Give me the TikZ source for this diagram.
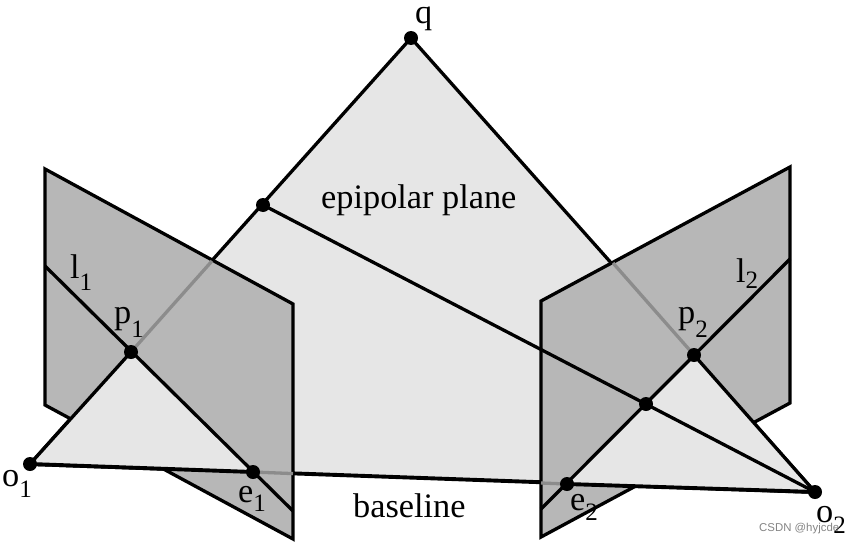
\documentclass[tikz,border=0pt]{standalone}
\usepackage{fontspec}
\setmainfont{Liberation Serif}
\newfontfamily\wmfont{Liberation Sans}
\definecolor{planegray}{HTML}{B7B7B7}
\definecolor{epilight}{HTML}{E6E6E6}
\definecolor{hiddenline}{HTML}{8C8C8C}
\newcommand{\subdig}[2][10.5pt]{\raisebox{-#1}{\fontsize{25}{25}\selectfont #2}}
\tikzset{
  dotpt/.style={circle,fill=black,inner sep=0pt,minimum size=14pt},
  edge/.style={draw=black,line width=3.3pt,line join=miter},
  baseedge/.style={draw=black,line width=3.9pt},
  hiddenedge/.style={draw=hiddenline,line width=3.3pt},
  planeshape/.style={fill=planegray,draw=black,line width=3.3pt,line join=miter},
  lightshape/.style={fill=epilight},
  lab/.style={anchor=base west,inner sep=0pt,font=\fontsize{34.3}{34.3}\selectfont},
  wm/.style={anchor=base west,inner sep=0pt,text=black!48,font=\wmfont\fontsize{11.4}{12}\selectfont}
}
\begin{document}
\begin{tikzpicture}[x=1pt,y=-1pt]
\useasboundingbox (0,0) rectangle (850,543);
\fill[white] (0,0) rectangle (850,543);
% named points
\coordinate (q) at (411,38);
\coordinate (o1) at (30,464);
\coordinate (o2) at (815,492);
\coordinate (e1) at (253,472);
\coordinate (e2) at (567,484);
\coordinate (p1) at (131,352);
\coordinate (p2) at (694,355);
\coordinate (m2) at (646,404);
\coordinate (m1) at (263,205);
\coordinate (ql) at (212,261);
\coordinate (qr) at (613,263);
\coordinate (bl) at (293,473.6);
\coordinate (br) at (541,483);
% epipolar plane
\path[lightshape] (q) -- (o1) -- (o2) -- cycle;
\draw[edge] (q) -- (o1);
\draw[edge] (q) -- (o2);
\draw[baseedge] (o1) -- (o2);
% image planes
\coordinate (L1) at (45,169);
\coordinate (L2) at (293,304);
\coordinate (L3) at (293,539);
\coordinate (L4) at (45,405);
\coordinate (R1) at (790,167);
\coordinate (R2) at (541,301);
\coordinate (R3) at (541,537);
\coordinate (R4) at (790,403);
\path[planeshape] (L1) -- (L2) -- (L3) -- (L4) -- cycle;
\path[planeshape] (R1) -- (R2) -- (R3) -- (R4) -- cycle;
% hidden lines seen through the planes
\draw[hiddenedge] (ql) -- (p1);
\draw[hiddenedge] (qr) -- (p2);
\draw[hiddenedge] (e1) -- (bl);
\draw[hiddenedge] (e2) -- (br);
% triangles in front of the planes
\path[lightshape] (o1) -- (p1) -- (e1) -- cycle;
\path[lightshape] (o2) -- (p2) -- (e2) -- cycle;
% lines
\coordinate (l1a) at (45,266);
\coordinate (l1b) at (293,511);
\coordinate (l2a) at (790,259);
\coordinate (l2b) at (541,509);
\draw[edge] (l1a) -- (l1b);
\draw[edge] (l2a) -- (l2b);
\draw[edge] (o1) -- (p1);
\draw[edge] (o2) -- (p2);
\draw[baseedge] (o1) -- (e1);
\draw[baseedge] (e2) -- (o2);
\draw[edge] (m1) -- (o2);
% points
\node[dotpt] (nq) at (q) {};
\node[dotpt] (no1) at (o1) {};
\node[dotpt] (no2) at (o2) {};
\node[dotpt] (ne1) at (e1) {};
\node[dotpt] (ne2) at (e2) {};
\node[dotpt] (np1) at (p1) {};
\node[dotpt] (np2) at (p2) {};
\node[dotpt] (nm2) at (m2) {};
\node[dotpt] (nm1) at (m1) {};
% labels
\node[lab] (tq) at (415,24) {q};
\node[lab] (tepi) at (321,208) {epipolar plane};
\node[lab] (tbase) at (353,517) {baseline};
\node[lab] (tl1) at (70,278) {l\subdig[12pt]{1}};
\node[lab] (tl2) at (736,282) {l\subdig[6pt]{2}};
\node[lab] (tp1) at (114,323) {p\subdig[14pt]{1}};
\node[lab] (tp2) at (678,323) {p\subdig[14pt]{2}};
\node[lab] (te1) at (238,502) {e\subdig[9pt]{1}};
\node[lab] (te2) at (570,510) {e\subdig[10pt]{2}};
\node[lab] (to1) at (2,486) {o\subdig[11pt]{1}};
\node[lab] (to2) at (816,522) {o\subdig[11pt]{2}};
\node[wm] (twm) at (759,531) {CSDN @hyjcde};
\end{tikzpicture}
\end{document}
